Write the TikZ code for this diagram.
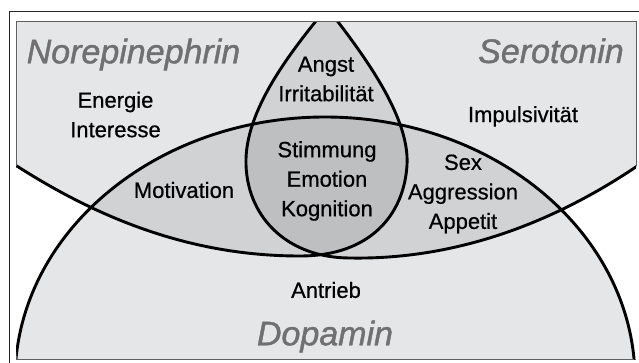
\documentclass[tikz,border=0pt]{standalone}
\usepackage{fontspec}
\setmainfont{Liberation Sans}
\newfontfamily\labelfont[FakeBold=0.6]{Liberation Sans}
\newfontfamily\titlefont[FakeBold=1.2]{Liberation Sans}
\usepackage{tikz}

\definecolor{bggray}{RGB}{229,230,232}
\definecolor{midgray}{RGB}{209,210,212}
\definecolor{triplegray}{RGB}{190,191,193}
\definecolor{titlegray}{RGB}{112,112,112}
\definecolor{rimgray}{RGB}{95,95,95}

% the three regions, in pixel coordinates of the figure
\newcommand{\norpath}{(-10,148) .. controls (100,225) and (200,256) .. (300,256)
  .. controls (370,256) and (404,215) .. (407,165)
  .. controls (410,115) and (360,50) .. (325,5) -- (325,-10) -- (-10,-10) -- cycle}
\newcommand{\serpath}{(329,5) .. controls (292,50) and (244,110) .. (246,165)
  .. controls (248,220) and (290,258) .. (350,258)
  .. controls (460,260) and (565,220) .. (660,150) -- (660,-10) -- (329,-10) -- cycle}
\newcommand{\doppath}{(325,380) ellipse [x radius=310, y radius=263]}

\begin{document}
\begin{tikzpicture}[x=1pt, y=-1pt,
                    outline/.style={line width=2.9pt, black},
                    rim/.style={line width=1pt, rimgray},
                    every node/.style={font=\labelfont\fontsize{22}{29.5}\selectfont, align=center}]
  \tikzstyle{transmitter}=[font=\titlefont\fontsize{34}{40}\selectfont\itshape, text=titlegray]

  \useasboundingbox (0,0) rectangle (639,363);

  \begin{scope}
    \clip (16,22) rectangle (636,359);
    \fill[bggray] \norpath;
    \fill[bggray] \serpath;
    \fill[bggray] \doppath;
    \begin{scope}
      \clip \norpath;
      \fill[midgray] \serpath;
      \fill[midgray] \doppath;
    \end{scope}
    \begin{scope}
      \clip \serpath;
      \fill[midgray] \doppath;
      \clip \norpath;
      \fill[triplegray] \doppath;
    \end{scope}
    \draw[outline] \norpath;
    \draw[outline] \serpath;
    \draw[outline] \doppath;
  \end{scope}

  % thin edge of the grey area
  \begin{scope}
    \clip \norpath;
    \draw[rim] (16,22) rectangle (636,359);
  \end{scope}
  \begin{scope}
    \clip \serpath;
    \draw[rim] (16,22) rectangle (636,359);
  \end{scope}
  \begin{scope}
    \clip \doppath;
    \draw[rim] (16,22) rectangle (636,359);
  \end{scope}

  \draw[line width=1pt, black!85] (9.5,11.5) rectangle (650,375);

  \node[transmitter] (nor) at (133.5,54.5) {Norepinephrin};
  \node[transmitter] (ser) at (551,50.8)   {Serotonin};
  \node[transmitter] (dop) at (325,336.5)  {Dopamin};

  \node (energie)  at (115.5,114.6) {Energie\\Interesse};
  \node (angst)    at (326,79)      {Angst\\Irritabilität};
  \node (impuls)   at (523,116.4)   {Impulsivität};
  \node (stimmung) at (327,181)     {Stimmung\\Emotion\\Kognition};
  \node (motiv)    at (184,190)     {Motivation};
  \node (sex)      at (463,194)     {Sex\\Aggression\\Appetit};
  \node (antrieb)  at (326,290)     {Antrieb};
\end{tikzpicture}
\end{document}
